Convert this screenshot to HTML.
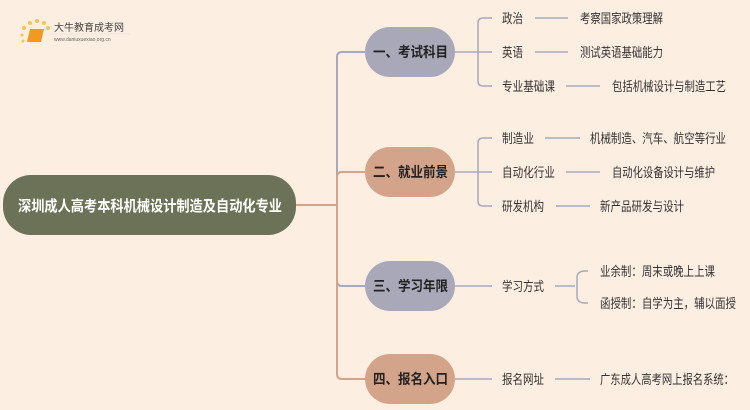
<!DOCTYPE html>
<html><head><meta charset="utf-8"><style>
html,body{margin:0;padding:0;background:#fdeee2;}
svg{display:block;font-family:"Liberation Sans","Noto Sans CJK SC",sans-serif;}
</style></head><body>
<svg width="750" height="410" viewBox="0 0 750 410" xmlns="http://www.w3.org/2000/svg">
<rect width="750" height="410" fill="#fdeee2"/>
<g>
<circle cx="24" cy="28" r="2" fill="#f6c54a"/><circle cx="30" cy="23" r="2" fill="#f6c54a"/><circle cx="37" cy="21" r="2" fill="#f6c54a"/><circle cx="44" cy="23" r="2" fill="#f6c54a"/><circle cx="48" cy="28" r="2" fill="#f6c54a"/><circle cx="22" cy="35" r="1.5" fill="#f6c54a"/><circle cx="23" cy="41" r="1.5" fill="#f6c54a"/>
<path d="M30 29 L44 29 L41 42 L27 42 Z" fill="#f29a1f"/>
<text x="54" y="31" font-size="10" fill="#444">大牛教育成考网</text>
<line x1="50" y1="34" x2="130" y2="34" stroke="#ddd" stroke-width="0.6"/>
<text x="54" y="41" font-size="5" fill="#666">www.daniuxuexiao.org.cn</text>
</g>
<g fill="none" stroke-width="2">
<path d="M296 205 H337" stroke="#d4a48a"/>
<path d="M365 52 H342 Q337 52 337 57 V200" stroke="#a8a8c0"/>
<path d="M365 172 H342 Q337 172 337 177 V205" stroke="#d4a48a"/>
<path d="M337 205 V281 Q337 286 342 286 H365" stroke="#a8a8c0"/>
<path d="M337 205 V374 Q337 379 342 379 H365" stroke="#d4a48a"/>
</g>
<rect x="3" y="175" width="293" height="60" rx="28" fill="#6b7257"/>
<text x="18" y="211" font-size="15" font-weight="bold" fill="#fff" textLength="264" lengthAdjust="spacingAndGlyphs">深圳成人高考本科机械设计制造及自动化专业</text>
<g font-size="14" font-weight="bold" fill="#222">
<rect x="365" y="27" width="90" height="50" rx="25" fill="#a8a8b8"/>
<text x="373" y="57" textLength="75" lengthAdjust="spacingAndGlyphs">一、考试科目</text>
<rect x="365" y="147" width="90" height="50" rx="25" fill="#d4a48a"/>
<text x="373" y="177" textLength="75" lengthAdjust="spacingAndGlyphs">二、就业前景</text>
<rect x="365" y="261" width="90" height="50" rx="25" fill="#a8a8b8"/>
<text x="373" y="291" textLength="75" lengthAdjust="spacingAndGlyphs">三、学习年限</text>
<rect x="365" y="354" width="90" height="50" rx="25" fill="#d4a48a"/>
<text x="373" y="384" textLength="75" lengthAdjust="spacingAndGlyphs">四、报名入口</text>
</g>
<g fill="none" stroke="#a8a8c0" stroke-width="1.5">
<path d="M455 52 H478"/><path d="M492 18 H483 Q478 18 478 23 V81 Q478 86 483 86 H492"/><path d="M478 52 H492"/>
<path d="M455 172 H478"/><path d="M492 138 H483 Q478 138 478 143 V201 Q478 206 483 206 H492"/><path d="M478 172 H492"/>
<path d="M455 286 H492"/>
<path d="M455 379 H492"/>
<path d="M535 18 H568"/><path d="M535 52 H568"/><path d="M566 86 H600"/>
<path d="M545 138 H580"/><path d="M566 172 H600"/><path d="M556 206 H590"/>
<path d="M555 286 H575"/><path d="M588 271 H585 Q577 271 577 278 V296 Q577 303 585 303 H588"/>
<path d="M555 379 H590"/>
</g>
<g font-size="13" fill="#333" lengthAdjust="spacingAndGlyphs">
<text x="502" y="23" textLength="21" lengthAdjust="spacingAndGlyphs">政治</text><text x="580" y="23" textLength="83" lengthAdjust="spacingAndGlyphs">考察国家政策理解</text>
<text x="502" y="57" textLength="21" lengthAdjust="spacingAndGlyphs">英语</text><text x="580" y="57" textLength="83" lengthAdjust="spacingAndGlyphs">测试英语基础能力</text>
<text x="502" y="91" textLength="53" lengthAdjust="spacingAndGlyphs">专业基础课</text><text x="612" y="91" textLength="114" lengthAdjust="spacingAndGlyphs">包括机械设计与制造工艺</text>
<text x="502" y="143" textLength="32" lengthAdjust="spacingAndGlyphs">制造业</text><text x="590" y="143" textLength="136" lengthAdjust="spacingAndGlyphs">机械制造、汽车、航空等行业</text>
<text x="502" y="177" textLength="53" lengthAdjust="spacingAndGlyphs">自动化行业</text><text x="612" y="177" textLength="103" lengthAdjust="spacingAndGlyphs">自动化设备设计与维护</text>
<text x="502" y="211" textLength="42" lengthAdjust="spacingAndGlyphs">研发机构</text><text x="600" y="211" textLength="84" lengthAdjust="spacingAndGlyphs">新产品研发与设计</text>
<text x="502" y="291" textLength="42" lengthAdjust="spacingAndGlyphs">学习方式</text>
<text x="600" y="276" textLength="115" lengthAdjust="spacingAndGlyphs">业余制：周末或晚上上课</text>
<text x="600" y="308" textLength="136" lengthAdjust="spacingAndGlyphs">函授制：自学为主，辅以面授</text>
<text x="502" y="384" textLength="42" lengthAdjust="spacingAndGlyphs">报名网址</text><text x="600" y="384" textLength="134" lengthAdjust="spacingAndGlyphs">广东成人高考网上报名系统：</text>
</g>
</svg>
</body></html>
